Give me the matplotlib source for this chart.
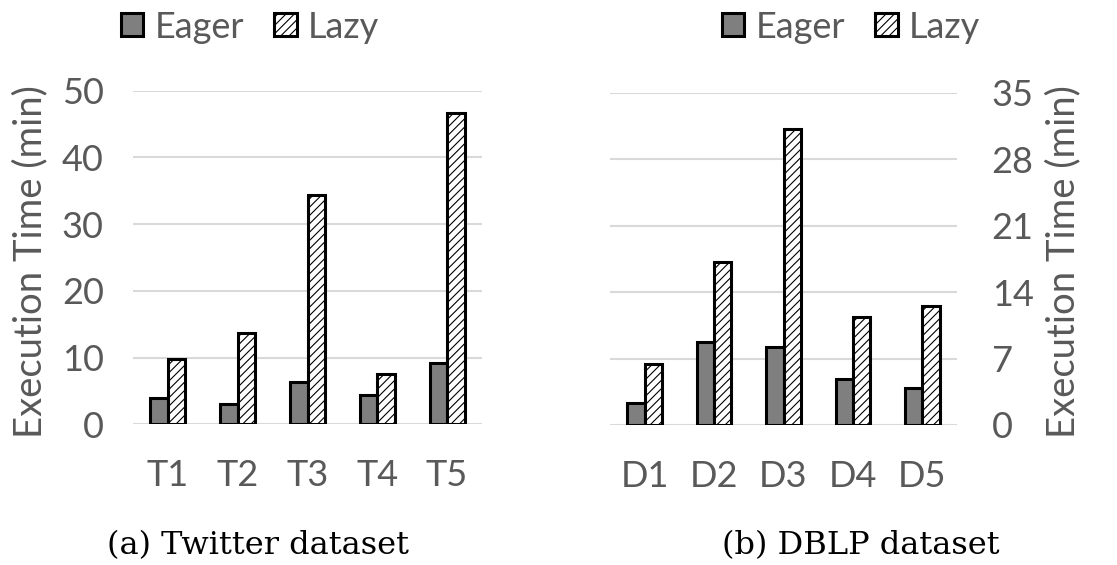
import numpy as np
import matplotlib
matplotlib.use("Agg")
import matplotlib.pyplot as plt
from matplotlib.patches import Patch

# values
tw_labels = ["T1", "T2", "T3", "T4", "T5"]
tw_eager = [4.0, 3.1, 6.3, 4.35, 9.2]
tw_lazy = [9.8, 13.7, 34.4, 7.6, 46.6]

db_labels = ["D1", "D2", "D3", "D4", "D5"]
db_eager = [2.3, 8.7, 8.2, 4.8, 3.9]
db_lazy = [6.4, 17.2, 31.2, 11.4, 12.5]

plt.rcParams['font.family'] = ['Lato', 'DejaVu Sans']
plt.rcParams['hatch.color'] = '#acacac'
plt.rcParams['hatch.linewidth'] = 0.8

GRAY_TXT = '#595959'
EAGER_C = '#7f7f7f'
FS = 26

fig = plt.figure(figsize=(11.17, 5.65), dpi=100)
W, H = 1117, 565


def panel(rect, labels, eager, lazy, ymax, step, right=False):
    ax = fig.add_axes(rect)
    x = np.arange(len(labels))
    bw = 0.25
    ax.bar(x - bw / 2, eager, bw, color=EAGER_C, edgecolor='black', linewidth=2.2, zorder=3)
    ax.bar(x + bw / 2, lazy, bw, color='white', edgecolor='black', linewidth=2.2,
           hatch='////', zorder=3)
    ax.set_xlim(-0.5, len(labels) - 0.5)
    ax.set_ylim(0, ymax)
    ax.set_yticks(np.arange(0, ymax + 0.1, step))
    ax.set_xticks(x)
    ax.set_xticklabels(labels)
    ax.grid(axis='y', color='#d9d9d9', linewidth=1.5, zorder=0)
    for s in ax.spines.values():
        s.set_visible(False)
    ax.tick_params(axis='both', length=0, labelsize=FS, labelcolor=GRAY_TXT)
    ax.tick_params(axis='x', pad=25)
    if right:
        ax.yaxis.tick_right()
        ax.tick_params(axis='y', pad=25)
    else:
        ax.tick_params(axis='y', pad=21)
    return ax


ax1 = panel([133 / W, 1 - 424.3 / H, 349 / W, 333.6 / H],
            tw_labels, tw_eager, tw_lazy, 50, 10)
ax2 = panel([610 / W, 1 - 425 / H, 347 / W, 332.3 / H],
            db_labels, db_eager, db_lazy, 35, 7, right=True)

fig.text(30 / W, 1 - 262 / H, 'Execution Time (min)', rotation=90, ha='center',
         va='center', fontsize=27.5, color=GRAY_TXT)
fig.text(1063 / W, 1 - 262 / H, 'Execution Time (min)', rotation=90, ha='center',
         va='center', fontsize=27.5, color=GRAY_TXT)

handles = [Patch(facecolor=EAGER_C, edgecolor='black', linewidth=2.2, label='Eager'),
           Patch(facecolor='white', edgecolor='black', linewidth=2.2, hatch='////', label='Lazy')]
for cx in (250, 851):
    fig.legend(handles=handles, loc='center', bbox_to_anchor=(cx / W, 1 - 27 / H),
               ncol=2, frameon=False, fontsize=FS, labelcolor=GRAY_TXT,
               handlelength=0.62, handleheight=0.62, handletextpad=0.3,
               columnspacing=0.85, borderpad=0, borderaxespad=0)

cap_font = ['DejaVu Serif']
fig.text(258 / W, 1 - 546 / H, '(a) Twitter dataset', ha='center', va='center',
         fontsize=23, family=cap_font, color='black')
fig.text(861 / W, 1 - 546 / H, '(b) DBLP dataset', ha='center', va='center',
         fontsize=23, family=cap_font, color='black')

fig.savefig('out.png', dpi=100)
